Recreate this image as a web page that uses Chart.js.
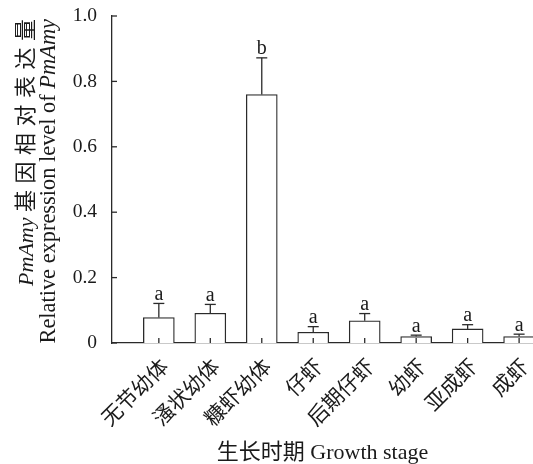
<!DOCTYPE html>
<html>
<head>
<meta charset="utf-8">
<script src="https://cdn.jsdelivr.net/npm/chart.js@4.4.0/dist/chart.umd.min.js"></script>
<style>
  html, body { margin: 0; padding: 0; background: #fff; }
  #wrap { width: 533px; height: 464px; position: relative; }
</style>
</head>
<body>
<div id="wrap"><canvas id="grafico"></canvas></div>
<script>
const stages = ["无节幼体", "溞状幼体", "糠虾幼体", "仔虾", "后期仔虾", "幼虾", "亚成虾", "成虾"];
const expression = [0.078, 0.091, 0.760, 0.033, 0.068, 0.020, 0.043, 0.020];
const errors = [0.043, 0.027, 0.112, 0.017, 0.022, 0.004, 0.013, 0.007];
const letters = ["a", "a", "b", "a", "a", "a", "a", "a"];
const yTicks = [0, 0.2, 0.4, 0.6, 0.8, 1.0];

const serif = "'Liberation Serif', 'Times New Roman', 'Noto Sans CJK SC', serif";
const ink = "#1a1a1a";
const line = "#2a2a2a";

// error bars, letters, inward ticks and the two-line y title
const extras = {
  id: "extras",
  afterDraw(chart) {
    const { ctx, chartArea } = chart;
    const x = chart.scales.x;
    const y = chart.scales.y;
    ctx.save();
    ctx.strokeStyle = line;
    ctx.lineWidth = 1.3;

    function seg(x1, y1, x2, y2) {
      ctx.beginPath();
      ctx.moveTo(x1, y1);
      ctx.lineTo(x2, y2);
      ctx.stroke();
    }

    yTicks.forEach(v => {
      const py = y.getPixelForValue(v);
      seg(chartArea.left, py, chartArea.left + 5, py);
    });
    stages.forEach((s, i) => {
      const px = x.getPixelForValue(i);
      seg(px, chartArea.bottom, px, chartArea.bottom - 5);
    });

    ctx.fillStyle = ink;
    ctx.font = "20px " + serif;
    ctx.textAlign = "center";
    ctx.textBaseline = "alphabetic";
    expression.forEach((v, i) => {
      const px = x.getPixelForValue(i);
      const top = y.getPixelForValue(v + errors[i]);
      seg(px, y.getPixelForValue(v), px, top);
      seg(px - 5.5, top, px + 5.5, top);
      ctx.fillText(letters[i], px, top - 3.5);
    });

    // y title, drawn rotated so the italic gene name can be mixed in
    // each part: [text, italic, extra spacing per character]
    const titleLines = [
      { cx: 27, size: 22, parts: [["PmAmy", true, 0], [" ", false, 0], ["基因相对表达量", false, 6.5]] },
      { cx: 49, size: 22.4, parts: [["Relative expression level of ", false, 0], ["PmAmy", true, 0]] }
    ];
    const endY = 19;
    titleLines.forEach(tl => {
      const pieces = [];
      let total = 0;
      tl.parts.forEach(p => {
        const font = (p[1] ? "italic " : "") + tl.size + "px " + serif;
        ctx.font = font;
        const chunks = p[2] ? Array.from(p[0]) : [p[0]];
        chunks.forEach((c, k) => {
          const w = ctx.measureText(c).width;
          pieces.push({ c, font, at: total });
          total += w + (p[2] && k < chunks.length - 1 ? p[2] : 0);
        });
      });
      ctx.save();
      ctx.translate(tl.cx, endY + total);
      ctx.rotate(-Math.PI / 2);
      ctx.textAlign = "left";
      ctx.textBaseline = "middle";
      pieces.forEach(pc => {
        ctx.font = pc.font;
        ctx.fillText(pc.c, pc.at, 0);
      });
      ctx.restore();
    });
    ctx.restore();
  }
};

const ctx = document.getElementById("grafico").getContext("2d");

new Chart(ctx, {
  type: "bar",
  data: {
    datasets: [{
      data: expression.map((v, i) => ({ x: i, y: v })),
      backgroundColor: "#fff",
      borderColor: line,
      borderWidth: 1.3,
      barThickness: 31
    }]
  },
  options: {
    responsive: true,
    maintainAspectRatio: false,
    animation: false,
    layout: { padding: { top: 16, right: 0, bottom: 0, left: 0 } },
    plugins: { legend: { display: false }, tooltip: { enabled: false } },
    scales: {
      x: {
        type: "linear",
        offset: false,
        min: -0.91,
        max: 7.27,
        grid: { display: false, drawTicks: false },
        border: { color: line, width: 1.3 },
        ticks: {
          stepSize: 1,
          includeBounds: false,
          autoSkip: false,
          minRotation: 45,
          maxRotation: 45,
          padding: 12,
          labelOffset: 7,
          color: ink,
          font: { size: 21, family: serif },
          callback: v => stages[v]
        },
        title: {
          display: true,
          text: "生长时期 Growth stage",
          color: ink,
          font: { size: 22, family: serif, lineHeight: 1 },
          padding: { top: 0, bottom: 0 }
        },
        afterFit: s => { s.height = 121; s.paddingLeft = 0; s.paddingRight = 0; }
      },
      y: {
        min: 0,
        max: 1,
        grid: { display: false, drawTicks: false },
        border: { color: line, width: 1.3 },
        afterBuildTicks: s => { s.ticks = yTicks.map(v => ({ value: v })); },
        ticks: {
          padding: 15,
          color: ink,
          font: { size: 19.5, family: serif },
          callback: v => v === 0 ? "0" : v.toFixed(1)
        },
        afterFit: s => { s.width = 112; s.paddingTop = 0; s.paddingBottom = 0; }
      }
    }
  },
  plugins: [extras]
});
</script>
</body>
</html>
